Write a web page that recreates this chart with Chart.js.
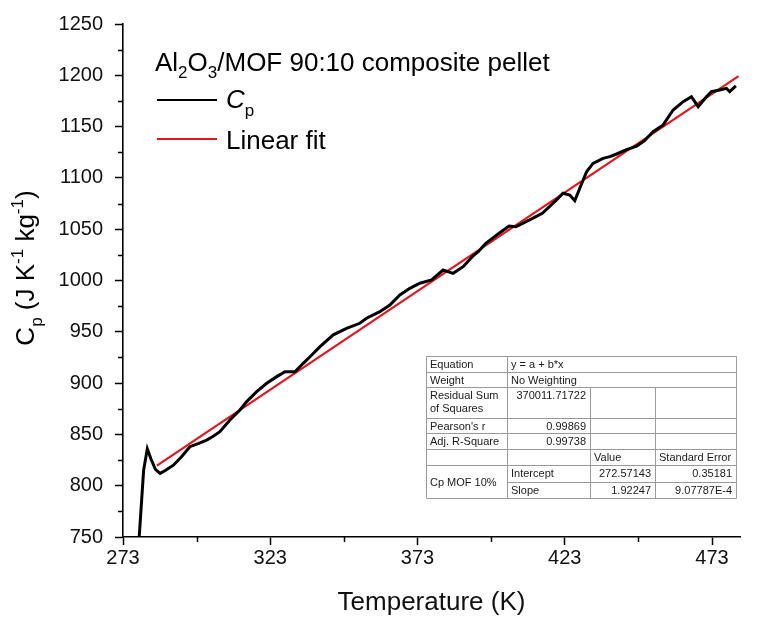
<!DOCTYPE html>
<html>
<head>
<meta charset="utf-8">
<script src="https://cdn.jsdelivr.net/npm/chart.js@4.4.1/dist/chart.umd.min.js"></script>
<style>
  html, body { margin: 0; padding: 0; background: #fff; }
  #wrap { width: 758px; height: 618px; }
</style>
</head>
<body>
<div id="wrap"><canvas id="c"></canvas></div>
<script>
'use strict';

const tempK = [278.5, 280.0, 281.25, 282.5, 284.0, 285.6, 287.5, 290.1, 292.8, 295.7, 298.5, 301.4, 303.5,
  305.9, 309.3, 312.7, 315.0, 318.4, 321.8, 325.2, 328.0, 331.4, 334.2, 336.5, 339.9, 344.4, 348.9, 353.4,
  355.7, 360.2, 363.6, 367.0, 370.4, 373.8, 377.8, 381.7, 385.1, 388.5, 391.6, 393.6, 396.2, 400.7, 404.1,
  406.4, 410.9, 415.4, 420.2, 422.4, 424.7, 426.4, 428.1, 430.4, 432.6, 436.0, 438.3, 440.6, 444.0, 447.4,
  450.0, 453.0, 456.4, 459.8, 463.2, 466.0, 468.3, 471.1, 472.8, 475.6, 477.9, 479.0, 481.1];
const cpMeasured = [750, 815, 836, 826, 816, 812, 815, 820, 828, 838, 841, 844.5, 848,
  852.6, 864, 873.8, 882, 891.6, 899.8, 906.3, 911.1, 911, 919.3, 925.7, 935.5, 947, 953.4, 958.3,
  963.2, 969.6, 976.1, 985.9, 992.4, 997.3, 1000.5, 1010.2, 1007, 1013.5, 1023.2, 1028.1, 1036.2, 1046, 1053.1,
  1052.4, 1058.9, 1065.5, 1078.5, 1085, 1083.3, 1077.8, 1089.9, 1106, 1114.2, 1119.1, 1120.7, 1123.3, 1127.5, 1131,
  1136, 1145, 1151.6, 1166.2, 1174.3, 1179.1, 1169.4, 1179.1, 1184, 1185.7, 1187.3, 1184, 1189.6];
const fitTempK = [284.5, 482.0];
const fitCp = [819.5, 1199.2];

const xMajorTicks = [273, 323, 373, 423, 473];
const xMinorTicks = [298, 348, 398, 448];
const yMinorTicks = [775, 825, 875, 925, 975, 1025, 1075, 1125, 1175, 1225];

// Fit report table text
const fitStats = [
  ['Equation', 'y = a + b*x'],
  ['Weight', 'No Weighting'],
  ['Residual Sum|of Squares', '370011.71722'],
  ["Pearson's r", '0.99869'],
  ['Adj. R-Square', '0.99738'],
];
const fitParamHeader = ['Value', 'Standard Error'];
const fitParamNames = ['Intercept', 'Slope'];
const fitParamValues = ['272.57143', '1.92247'];
const fitParamErrors = ['0.35181', '9.07787E-4'];
const fitSeriesName = 'Cp MOF 10%';

const FONT = '"Liberation Sans", Arial, sans-serif';

// draw a run of text pieces (sub/superscripts) starting at x, or centred on x
function drawRich(ctx, parts, x, y, size, center) {
  const widths = parts.map((p) => {
    ctx.font = `${p.italic ? 'italic ' : ''}${Math.round(size * (p.scale || 1))}px ${FONT}`;
    return ctx.measureText(p.t).width;
  });
  let cx = center ? x - widths.reduce((a, b) => a + b, 0) / 2 : x;
  parts.forEach((p, i) => {
    ctx.font = `${p.italic ? 'italic ' : ''}${Math.round(size * (p.scale || 1))}px ${FONT}`;
    ctx.fillText(p.t, cx, y + (p.dy || 0) * size);
    cx += widths[i];
  });
}

const decor = {
  id: 'decor',
  afterDraw(chart) {
    const { ctx, scales: { x, y } } = chart;
    ctx.save();
    ctx.strokeStyle = '#000';
    ctx.fillStyle = '#000';
    ctx.lineWidth = 1.5;

    // minor ticks
    ctx.beginPath();
    xMinorTicks.forEach((v) => {
      const px = Math.round(x.getPixelForValue(v)) + 0.5;
      ctx.moveTo(px, y.bottom); ctx.lineTo(px, y.bottom + 5);
    });
    yMinorTicks.forEach((v) => {
      const py = Math.round(y.getPixelForValue(v)) + 0.5;
      ctx.moveTo(x.left, py); ctx.lineTo(x.left - 5, py);
    });
    ctx.stroke();

    // y axis title
    ctx.save();
    ctx.translate(25, 268);
    ctx.rotate(-Math.PI / 2);
    ctx.textBaseline = 'alphabetic';
    drawRich(ctx, [
      { t: 'C' }, { t: 'p', scale: 0.65, dy: 0.3 }, { t: ' (J K' }, { t: '-1', scale: 0.65, dy: -0.42 },
      { t: ' kg' }, { t: '-1', scale: 0.65, dy: -0.42 }, { t: ')' },
    ], 0, 9, 26, true);
    ctx.restore();

    // legend
    ctx.textBaseline = 'alphabetic';
    drawRich(ctx, [
      { t: 'Al' }, { t: '2', scale: 0.65, dy: 0.25 }, { t: 'O' }, { t: '3', scale: 0.65, dy: 0.25 },
      { t: '/MOF 90:10 composite pellet' },
    ], 155, 71, 26, false);
    ctx.lineWidth = 2;
    ctx.strokeStyle = '#000';
    ctx.beginPath(); ctx.moveTo(157, 100); ctx.lineTo(217, 100); ctx.stroke();
    ctx.strokeStyle = '#e8141b';
    ctx.beginPath(); ctx.moveTo(157, 139); ctx.lineTo(217, 139); ctx.stroke();
    drawRich(ctx, [{ t: 'C', italic: true }, { t: 'p', scale: 0.65, dy: 0.3 }], 226, 108, 26, false);
    drawRich(ctx, [{ t: 'Linear fit' }], 226, 149, 26, false);

    // fit report table
    const cols = [426, 507, 590, 655, 736];
    const rows = [356, 372, 387, 418, 433, 449, 465, 482, 498];
    ctx.strokeStyle = '#9a9a9a';
    ctx.lineWidth = 1;
    ctx.beginPath();
    ctx.rect(cols[0] + 0.5, rows[0] + 0.5, cols[4] - cols[0], rows[8] - rows[0]);
    for (let i = 1; i <= 6; i++) { ctx.moveTo(cols[0], rows[i] + 0.5); ctx.lineTo(cols[4], rows[i] + 0.5); }
    ctx.moveTo(cols[1], rows[7] + 0.5); ctx.lineTo(cols[4], rows[7] + 0.5);
    ctx.moveTo(cols[1] + 0.5, rows[0]); ctx.lineTo(cols[1] + 0.5, rows[8]);
    ctx.moveTo(cols[2] + 0.5, rows[2]); ctx.lineTo(cols[2] + 0.5, rows[8]);
    ctx.moveTo(cols[3] + 0.5, rows[2]); ctx.lineTo(cols[3] + 0.5, rows[8]);
    ctx.stroke();

    ctx.fillStyle = '#1a1a1a';
    ctx.font = `11px ${FONT}`;
    const base = (r) => rows[r] + 12;
    fitStats.forEach(([label, val], r) => {
      const lines = label.split('|');
      lines.forEach((ln, k) => { ctx.textAlign = 'left'; ctx.fillText(ln, cols[0] + 4, base(r) + k * 13); });
      if (r < 2) { ctx.textAlign = 'left'; ctx.fillText(val, cols[1] + 4, base(r)); }
      else { ctx.textAlign = 'right'; ctx.fillText(val, cols[2] - 4, base(r)); }
    });
    ctx.textAlign = 'left';
    ctx.fillText(fitParamHeader[0], cols[2] + 4, base(5));
    ctx.fillText(fitParamHeader[1], cols[3] + 4, base(5));
    ctx.fillText(fitSeriesName, cols[0] + 4, rows[7] + 4);
    fitParamNames.forEach((nm, k) => {
      ctx.textAlign = 'left';
      ctx.fillText(nm, cols[1] + 4, base(6 + k));
      ctx.textAlign = 'right';
      ctx.fillText(fitParamValues[k], cols[3] - 4, base(6 + k));
      ctx.fillText(fitParamErrors[k], cols[4] - 4, base(6 + k));
    });
    ctx.restore();
  },
};

new Chart(document.getElementById('c'), {
  type: 'line',
  data: {
    datasets: [
      {
        label: 'Cp',
        data: tempK.map((t, i) => ({ x: t, y: cpMeasured[i] })),
        borderColor: '#000', borderWidth: 3, pointRadius: 0, tension: 0,
      },
      {
        label: 'Linear fit',
        data: fitTempK.map((t, i) => ({ x: t, y: fitCp[i] })),
        borderColor: '#e8141b', borderWidth: 2.2, pointRadius: 0, tension: 0,
      },
    ],
  },
  options: {
    responsive: true,
    maintainAspectRatio: false,
    animation: false,
    layout: { padding: { top: 24, right: 18, left: 0, bottom: 0 } },
    plugins: { legend: { display: false }, tooltip: { enabled: false } },
    scales: {
      x: {
        type: 'linear', min: 273, max: 482.5,
        afterBuildTicks: (s) => { s.ticks = xMajorTicks.map((v) => ({ value: v })); },
        afterFit: (s) => { s.height = 81; },
        border: { display: true, color: '#000', width: 1.6 },
        grid: { drawOnChartArea: false, drawTicks: true, tickLength: 8, tickColor: '#000', tickWidth: 1.5 },
        ticks: { color: '#111', padding: 1, font: { family: FONT, size: 20 }, maxRotation: 0, autoSkip: false,
          callback: (v) => String(v) },
        title: { display: true, text: 'Temperature (K)', color: '#111', font: { family: FONT, size: 26 }, padding: { top: 0, bottom: 0 } },
      },
      y: {
        min: 750, max: 1250,
        ticks: { stepSize: 50, color: '#111', padding: 12, font: { family: FONT, size: 20 }, callback: (v) => String(v) },
        afterFit: (s) => { s.width = 123; },
        border: { display: true, color: '#000', width: 1.6 },
        grid: { drawOnChartArea: false, drawTicks: true, tickLength: 8, tickColor: '#000', tickWidth: 1.5 },
      },
    },
  },
  plugins: [decor],
});
</script>
</body>
</html>
